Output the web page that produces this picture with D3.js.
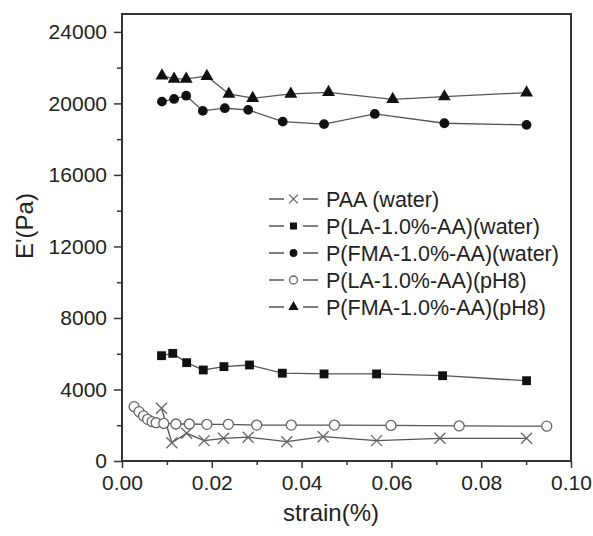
<!DOCTYPE html>
<html>
<head>
<meta charset="utf-8">
<script src="https://cdn.jsdelivr.net/npm/d3@7"></script>
<style>
    body { margin: 0; background: #fff; }
    svg text { font-family: Arial, "Liberation Sans", sans-serif; fill: #222; }
</style>
</head>
<body>
<script>
//
// DATA
const PAA_X = [ 0.0088, 0.0111, 0.0144, 0.0183, 0.0226, 0.0281, 0.0367, 0.0448, 0.0567, 0.0708, 0.0901 ];
const PAA_Y = [ 2950, 1020, 1550, 1140, 1270, 1330, 1080, 1360, 1140, 1270, 1270 ];

const LA_WATER_X = [ 0.0088, 0.0113, 0.0144, 0.0181, 0.0227, 0.0284, 0.0357, 0.0450, 0.0567, 0.0714, 0.0901 ];
const LA_WATER_Y = [ 5890, 6020, 5500, 5090, 5280, 5370, 4910, 4870, 4870, 4770, 4490 ];

const FMA_WATER_X = [ 0.0089, 0.0116, 0.0143, 0.0180, 0.0229, 0.0281, 0.0358, 0.0450, 0.0563, 0.0718, 0.0901 ];
const FMA_WATER_Y = [ 20100, 20250, 20430, 19580, 19730, 19640, 18980, 18840, 19410, 18890, 18800 ];

const LA_PH8_X = [ 0.0027, 0.0038, 0.0048, 0.0057, 0.0067, 0.0076, 0.0093, 0.0120, 0.0150, 0.0189, 0.0237, 0.0300, 0.0377, 0.0473, 0.0599, 0.0751, 0.0946 ];
const LA_PH8_Y = [ 3040, 2760, 2520, 2330, 2200, 2140, 2100, 2070, 2070, 2050, 2050, 2010, 2010, 2010, 1990, 1960, 1950 ];

const FMA_PH8_X = [ 0.0089, 0.0116, 0.0143, 0.0189, 0.0238, 0.0291, 0.0376, 0.0460, 0.0603, 0.0718, 0.0901 ];
const FMA_PH8_Y = [ 21550, 21370, 21370, 21520, 20530, 20290, 20530, 20620, 20230, 20380, 20600 ];

const SERIES_NAMES = [ 'PAA (water)', 'P(LA-1.0%-AA)(water)', 'P(FMA-1.0%-AA)(water)', 'P(LA-1.0%-AA)(pH8)', 'P(FMA-1.0%-AA)(pH8)' ];
const SERIES_MARKERS = [ 'cross', 'square', 'dot', 'ring', 'triangle' ];

const X_TICKS = [ 0, 0.02, 0.04, 0.06, 0.08, 0.10 ];
const X_MINOR = [ 0.01, 0.03, 0.05, 0.07, 0.09 ];
const Y_TICKS = [ 0, 4000, 8000, 12000, 16000, 20000, 24000 ];
const Y_MINOR = [ 2000, 6000, 10000, 14000, 18000, 22000 ];

window.addEventListener( 'load', function () {
    //
    // SIZES
    const WIDTH = 593;
    const HEIGHT = 536;
    const LEFT = 122;
    const RIGHT = 571;
    const TOP = 14;
    const BOTTOM = 461;
    const LINE_COLOR = '#555';
    const AXIS_COLOR = '#333';
    //
    // SERIES TABLE
    const xs = [ PAA_X, LA_WATER_X, FMA_WATER_X, LA_PH8_X, FMA_PH8_X ];
    const ys = [ PAA_Y, LA_WATER_Y, FMA_WATER_Y, LA_PH8_Y, FMA_PH8_Y ];
    let series = SERIES_NAMES.map( function ( name, i ) {
        return {
            name: name,
            marker: SERIES_MARKERS[ i ],
            points: xs[ i ].map( function ( v, j ) { return [ v, ys[ i ][ j ] ]; } )
        };
    });
    //
    // SCALES
    const x = d3.scaleLinear().domain( [ 0, 0.10 ] ).range( [ LEFT, RIGHT ] );
    const y = d3.scaleLinear().domain( [ 0, 25000 ] ).range( [ BOTTOM, TOP ] );

    let svg = d3.select( 'body' )
        .append( 'svg' )
        .attr( 'width', WIDTH )
        .attr( 'height', HEIGHT );
    //
    // AXES
    function styleAxis( g ) {
        g.select( '.domain' ).remove();
        g.selectAll( '.tick line' ).attr( 'stroke', AXIS_COLOR ).attr( 'stroke-width', 1.5 );
        g.selectAll( '.tick text' ).style( 'font-size', '21px' ).attr( 'fill', '#222' );
    }
    svg.append( 'g' )
        .attr( 'transform', 'translate(0,' + BOTTOM + ')' )
        .call( d3.axisBottom( x ).tickValues( X_MINOR ).tickSize( 4 ).tickFormat( '' ) )
        .call( styleAxis );
    svg.append( 'g' )
        .attr( 'transform', 'translate(0,' + BOTTOM + ')' )
        .call( d3.axisBottom( x ).tickValues( X_TICKS ).tickSize( 7 ).tickPadding( 7 ).tickFormat( d3.format( '.2f' ) ) )
        .call( styleAxis );
    svg.append( 'g' )
        .attr( 'transform', 'translate(' + LEFT + ',0)' )
        .call( d3.axisLeft( y ).tickValues( Y_MINOR ).tickSize( 5 ).tickFormat( '' ) )
        .call( styleAxis );
    svg.append( 'g' )
        .attr( 'transform', 'translate(' + LEFT + ',0)' )
        .call( d3.axisLeft( y ).tickValues( Y_TICKS ).tickSize( 8 ).tickPadding( 7 ).tickFormat( d3.format( 'd' ) ) )
        .call( styleAxis );
    //
    // FRAME
    svg.append( 'rect' )
        .attr( 'x', LEFT )
        .attr( 'y', TOP )
        .attr( 'width', RIGHT - LEFT )
        .attr( 'height', BOTTOM - TOP )
        .attr( 'fill', 'none' )
        .attr( 'stroke', AXIS_COLOR )
        .attr( 'stroke-width', 2 );
    //
    // AXIS TITLES
    svg.append( 'text' )
        .attr( 'x', 331 )
        .attr( 'y', 521 )
        .attr( 'text-anchor', 'middle' )
        .style( 'font-size', '24px' )
        .text( 'strain(%)' );
    svg.append( 'text' )
        .attr( 'transform', 'translate(33,226) rotate(-90)' )
        .attr( 'text-anchor', 'middle' )
        .style( 'font-size', '24px' )
        .text( "E'(Pa)" );
    //
    // MARKER DRAWER
    function drawMarker( sel, kind, scale ) {
        const s = scale || 1;
        if ( kind === 'ring' ) {
            sel.append( 'circle' ).attr( 'r', 5 * s ).attr( 'fill', '#fff' )
                .attr( 'stroke', '#666' ).attr( 'stroke-width', 1.3 );
        } else if ( kind === 'cross' ) {
            const h = 5.5 * s;
            sel.append( 'path' )
                .attr( 'd', 'M' + -h + ',' + -h + 'L' + h + ',' + h + 'M' + -h + ',' + h + 'L' + h + ',' + -h )
                .attr( 'stroke', '#666' ).attr( 'stroke-width', 1.3 ).attr( 'fill', 'none' );
        } else {
            let type = d3.symbolCircle, size = 75;
            if ( kind === 'square' ) { type = d3.symbolSquare; size = 78; }
            if ( kind === 'triangle' ) { type = d3.symbolTriangle; size = 72; }
            sel.append( 'path' )
                .attr( 'd', d3.symbol().type( type ).size( size * s * s )() )
                .attr( 'fill', '#111' );
        }
    }
    //
    // LINES
    const line = d3.line()
        .x( function ( d ) { return x( d[ 0 ] ); } )
        .y( function ( d ) { return y( d[ 1 ] ); } );
    svg.selectAll( 'path.series-line' )
        .data( series )
        .enter()
        .append( 'path' )
        .classed( 'series-line', true )
        .attr( 'd', function ( d ) { return line( d.points ); } )
        .attr( 'fill', 'none' )
        .attr( 'stroke', LINE_COLOR )
        .attr( 'stroke-width', 1.3 );
    //
    // MARKERS
    series.forEach( function ( s ) {
        svg.append( 'g' )
            .selectAll( 'g' )
            .data( s.points )
            .enter()
            .append( 'g' )
            .attr( 'transform', function ( d ) { return 'translate(' + x( d[ 0 ] ) + ',' + y( d[ 1 ] ) + ')'; } )
            .each( function () { drawMarker( d3.select( this ), s.marker ); } );
    });
    //
    // LEGEND
    const LEG_X = 269;
    const LEG_Y = 199;
    const LEG_STEP = 27;
    let legend = svg.append( 'g' )
        .selectAll( 'g' )
        .data( series )
        .enter()
        .append( 'g' )
        .attr( 'transform', function ( d, i ) { return 'translate(' + LEG_X + ',' + ( LEG_Y + i * LEG_STEP ) + ')'; } );
    legend.append( 'line' ).attr( 'x1', 0 ).attr( 'x2', 15 ).attr( 'stroke', LINE_COLOR ).attr( 'stroke-width', 1.5 );
    legend.append( 'line' ).attr( 'x1', 34 ).attr( 'x2', 49 ).attr( 'stroke', LINE_COLOR ).attr( 'stroke-width', 1.5 );
    legend.append( 'g' )
        .attr( 'transform', 'translate(24.5,0)' )
        .each( function ( d ) { drawMarker( d3.select( this ), d.marker, 0.8 ); } );
    legend.append( 'text' )
        .attr( 'x', 57 )
        .attr( 'dy', '0.36em' )
        .style( 'font-size', '21.5px' )
        .text( function ( d ) { return d.name; } );
}, false );
</script>
</body>
</html>
